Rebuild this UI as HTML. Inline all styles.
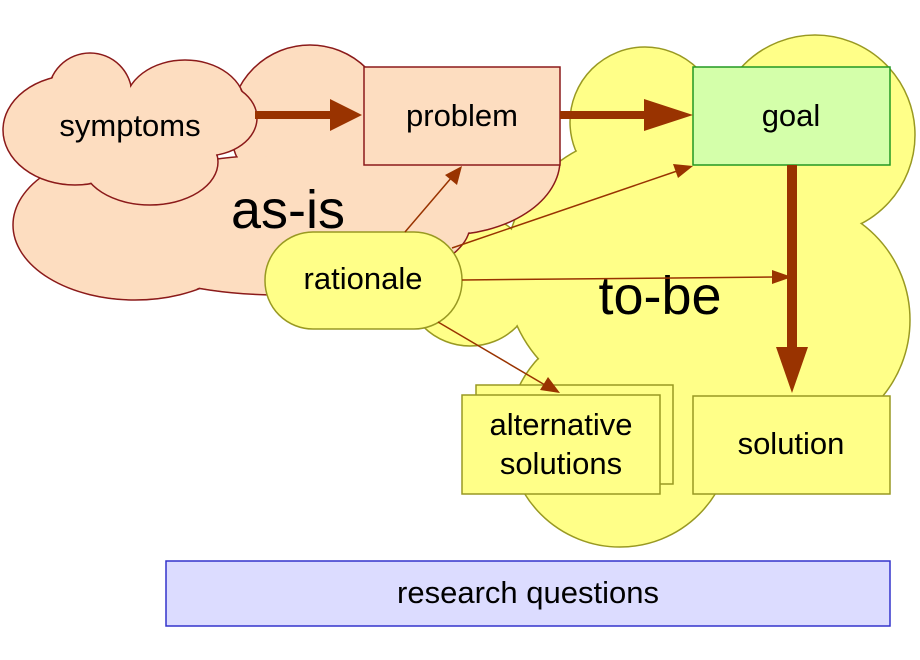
<!DOCTYPE html>
<html><head><style>body{margin:0;background:#fff}svg{display:block}text{font-family:"Liberation Sans",sans-serif;fill:#000}</style></head><body>
<svg width="920" height="660" viewBox="0 0 920 660">
<!-- yellow cloud -->
<g fill="#ffff88" stroke="#999922" stroke-width="1.5">
<circle cx="645" cy="122" r="75"/><circle cx="815" cy="135" r="100"/><circle cx="790" cy="320" r="120"/><circle cx="620" cy="435" r="112"/><circle cx="470" cy="280" r="66"/><circle cx="640" cy="270" r="135"/>
</g>
<g fill="#ffff88">
<circle cx="645" cy="122" r="74"/><circle cx="815" cy="135" r="99"/><circle cx="790" cy="320" r="119"/><circle cx="620" cy="435" r="111"/><circle cx="470" cy="280" r="65"/><circle cx="640" cy="270" r="134"/>
</g>
<!-- pink cloud -->
<g fill="#fdddc0" stroke="#8b1a1a" stroke-width="1.5">
<ellipse cx="135" cy="225" rx="122" ry="75"/><circle cx="310" cy="125" r="80"/><ellipse cx="445" cy="160" rx="115" ry="75"/><ellipse cx="280" cy="225" rx="190" ry="70"/>
</g>
<g fill="#fdddc0">
<ellipse cx="135" cy="225" rx="121" ry="74"/><circle cx="310" cy="125" r="79"/><ellipse cx="445" cy="160" rx="114" ry="74"/><ellipse cx="280" cy="225" rx="189" ry="69"/>
</g>
<!-- symptoms cloud -->
<g fill="#fdddc0" stroke="#8b1a1a" stroke-width="1.5">
<circle cx="90" cy="95" r="42"/><ellipse cx="185" cy="105" rx="60" ry="45"/><ellipse cx="75" cy="130" rx="72" ry="55"/><ellipse cx="150" cy="162" rx="68" ry="43"/><ellipse cx="205" cy="118" rx="52" ry="38"/>
</g>
<g fill="#fdddc0">
<circle cx="90" cy="95" r="41"/><ellipse cx="185" cy="105" rx="59" ry="44"/><ellipse cx="75" cy="130" rx="71" ry="54"/><ellipse cx="150" cy="162" rx="67" ry="42"/><ellipse cx="205" cy="118" rx="51" ry="37"/>
</g>
<text x="130" y="136" font-size="31" text-anchor="middle">symptoms</text>
<text x="288" y="228" font-size="54" text-anchor="middle">as-is</text>
<text x="660" y="314" font-size="54" text-anchor="middle">to-be</text>
<!-- boxes -->
<rect x="364" y="67" width="196" height="98" fill="#fdddc0" stroke="#8b1a1a" stroke-width="1.5"/>
<text x="462" y="126" font-size="31" text-anchor="middle">problem</text>
<rect x="693" y="67" width="197" height="98" fill="#d4ffaa" stroke="#229922" stroke-width="1.5"/>
<text x="791" y="126" font-size="31" text-anchor="middle">goal</text>
<rect x="693" y="396" width="197" height="98" fill="#ffff88" stroke="#999922" stroke-width="1.5"/>
<text x="791" y="454" font-size="31" text-anchor="middle">solution</text>
<rect x="476" y="385" width="197" height="99" fill="#ffff88" stroke="#999922" stroke-width="1.5"/>
<rect x="462" y="395" width="198" height="99" fill="#ffff88" stroke="#999922" stroke-width="1.5"/>
<text x="561" y="435" font-size="31" text-anchor="middle">alternative</text>
<text x="561" y="474" font-size="31" text-anchor="middle">solutions</text>
<rect x="166" y="561" width="724" height="65" fill="#dcdcff" stroke="#3333cc" stroke-width="1.5"/>
<text x="528" y="603" font-size="31" text-anchor="middle">research questions</text>
<!-- thick arrows -->
<g fill="#993300" stroke="none">
<rect x="255" y="111" width="76" height="8"/><polygon points="330,99 362,115 330,131"/>
<rect x="560" y="111" width="85" height="8"/><polygon points="644,99 693,115 644,131"/>
<rect x="787" y="165" width="10" height="183"/><polygon points="776,347 808,347 792,393"/>
</g>
<!-- rationale -->
<rect x="265" y="232" width="197" height="97" rx="48" fill="#ffff88" stroke="#999922" stroke-width="1.5"/>
<text x="363" y="289" font-size="31" text-anchor="middle">rationale</text>
<g stroke="#993300" stroke-width="1.5">
<line x1="405" y1="232" x2="452" y2="177"/><line x1="452" y1="248" x2="680" y2="170"/><line x1="462" y1="280" x2="775" y2="277"/><line x1="438" y1="322" x2="545" y2="385"/>
</g>
<g fill="#993300">
<polygon points="462,166 457,185 445,175"/>
<polygon points="693,166 678,178 673,164"/>
<polygon points="792,277 772,284 772,270"/>
<polygon points="560,393 540,390 548,377"/>
</g>
</svg>
</body></html>
